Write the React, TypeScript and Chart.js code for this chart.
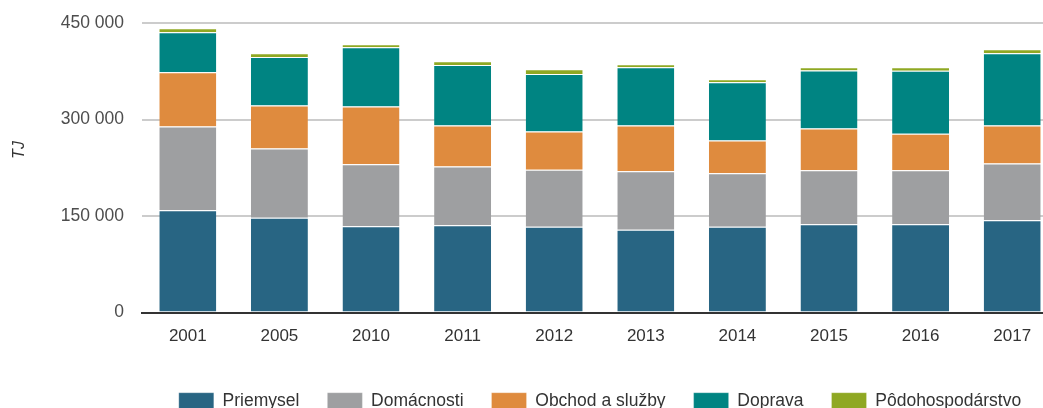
import React, { useEffect, useRef } from "react";
import { Chart, registerables } from "chart.js";

Chart.register(...registerables);

const years = ["2001", "2005", "2010", "2011", "2012", "2013", "2014", "2015", "2016", "2017"];
const priemysel = [158900, 147400, 134100, 135600, 133400, 128800, 133400, 137200, 137200, 143400];
const domacnosti = [130300, 107700, 96200, 91500, 88400, 90600, 82900, 83800, 83800, 88400];
const obchod = [84300, 66700, 90000, 63600, 59600, 71400, 51200, 65200, 56800, 59000];
const doprava = [62100, 75400, 92000, 94000, 89400, 90500, 90500, 90000, 97800, 112200];
const podohospodarstvo = [6200, 5700, 4700, 5700, 7300, 4700, 4700, 5100, 5700, 6200];

const seriesNames = ["Priemysel", "Domácnosti", "Obchod a služby", "Doprava", "Pôdohospodárstvo"];
const seriesColors = ["#286583", "#9e9fa1", "#df8b3e", "#008482", "#8fa823"];
const yTickMin = 0;
const yTickMax = 450000;
const yTickStep = 150000;
const yTitle = "TJ";

const FONT = '"Liberation Sans", Arial, Helvetica, sans-serif';

const fmt = (v: number) => String(v).replace(/\B(?=(\d{3})+(?!\d))/g, " ");

export default function App() {
  const ref = useRef<HTMLCanvasElement | null>(null);

  useEffect(() => {
    if (!ref.current) return;
    Chart.defaults.font.family = FONT;
    const seriesData = [priemysel, domacnosti, obchod, doprava, podohospodarstvo];

    const legendPlacer = {
      id: "legendPlacer",
      afterLayout(chart: any) {
        const lg = chart.legend;
        const ca = chart.chartArea;
        if (lg && ca) {
          lg.left = ca.left;
          lg.right = ca.right;
          lg.width = ca.right - ca.left;
        }
      },
    };

    const yTitlePlugin = {
      id: "yTitlePlugin",
      afterDraw(chart: any) {
        const ctx = chart.ctx;
        ctx.save();
        ctx.translate(20, 150);
        ctx.rotate(-Math.PI / 2);
        ctx.font = `italic 16px ${FONT}`;
        ctx.fillStyle = "#333333";
        ctx.textAlign = "center";
        ctx.textBaseline = "middle";
        ctx.fillText(yTitle, 0, 0);
        ctx.restore();
      },
    };

    const chart = new Chart(ref.current, {
      type: "bar",
      data: {
        labels: years,
        datasets: seriesNames.map((name, i) => ({
          label: name,
          data: seriesData[i],
          backgroundColor: seriesColors[i],
          borderColor: "#ffffff",
          borderWidth: { top: 1, right: 0, bottom: 0, left: 0 },
          borderSkipped: false,
          categoryPercentage: 1,
          barPercentage: 0.622,
        })),
      },
      options: {
        responsive: false,
        animation: false,
        layout: { padding: { top: 23, right: 2, left: 0, bottom: 0 } },
        plugins: {
          legend: {
            position: "bottom",
            align: "center",
            labels: {
              boxWidth: 35,
              boxHeight: 17,
              padding: 28,
              color: "#333333",
              font: { size: 17.5, family: FONT },
            },
          },
          tooltip: { enabled: false },
          title: { display: false },
        },
        scales: {
          x: {
            stacked: true,
            grid: { display: false, drawTicks: false },
            border: { display: true, color: "#333333", width: 2 },
            ticks: { color: "#333333", padding: 14, font: { size: 17, family: FONT } },
            afterFit: (scale: any) => {
              scale.height = 52;
            },
          },
          y: {
            stacked: true,
            min: yTickMin,
            max: yTickMax,
            grid: {
              drawTicks: false,
              lineWidth: 2,
              color: (c: any) => (c.tick && c.tick.value === 0 ? "rgba(0,0,0,0)" : "#cccccc"),
            },
            border: { display: false },
            ticks: {
              stepSize: yTickStep,
              padding: 18,
              color: "#4d4d4d",
              font: { size: 17.5, family: FONT, lineHeight: 0.2 },
              callback: (v: any) => fmt(Number(v)),
            },
            afterFit: (scale: any) => {
              scale.width = 142;
            },
          },
        },
      } as any,
      plugins: [legendPlacer, yTitlePlugin],
    });
    return () => chart.destroy();
  }, []);

  return (
    <div
      style={{
        position: "fixed",
        left: 0,
        top: 0,
        width: 1043,
        height: 408,
        overflow: "hidden",
        background: "#ffffff",
      }}
    >
      <canvas ref={ref} width={1060} height={420} style={{ width: 1060, height: 420, display: "block" }} />
    </div>
  );
}
